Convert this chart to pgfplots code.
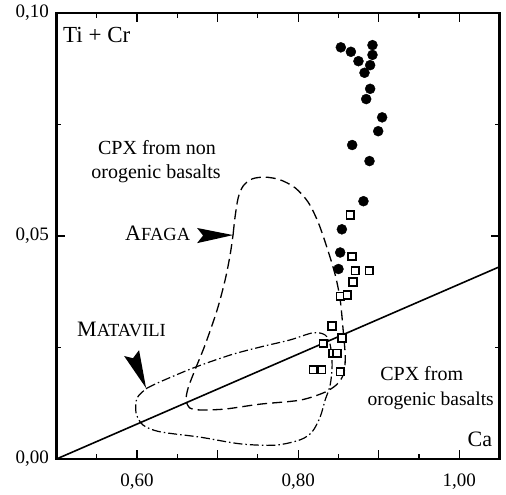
\documentclass[border=0pt]{standalone}
\usepackage{fontspec}
\setmainfont{Liberation Serif}
\usepackage{pgfplots}
\pgfplotsset{compat=1.18}
\newcommand\bigf{\fontsize{22}{24}\selectfont}
\newcommand\smf{\fontsize{18.5}{22}\selectfont}
\begin{document}
\begin{tikzpicture}
\useasboundingbox (-56.5pt,-36pt) rectangle (449.5pt,459pt);
\begin{axis}[
  at={(0pt,0pt)}, anchor=south west,
  width=443pt, height=446pt, scale only axis,
  xmin=0.5, xmax=1.05, ymin=0, ymax=0.1,
  xtick={0.6,0.7,0.8,0.9,1.0},
  xticklabels={{0,60},{},{0,80},{},{1,00}},
  minor xtick={0.55,0.65,0.75,0.85,0.95},
  ytick={0,0.05,0.1},
  yticklabels={{0,00},{0,05},{0,10}},
  minor ytick={0.025,0.075},
  tick align=inside,
  major tick length=9pt, minor tick length=5pt,
  tick style={line width=1.2pt, black},
  ticklabel style={font=\fontsize{19}{22}\selectfont},
  xticklabel style={yshift=-11pt},
  yticklabel style={xshift=-4pt},
  clip=false,
]
% AFAGA field (dashed)
\addplot[smooth, line width=1.3pt, dash pattern=on 10pt off 5pt] coordinates {
(0.7193,0.0504) (0.7217,0.0543) (0.7255,0.0585) (0.7317,0.0612) (0.7429,0.0628)
(0.7590,0.0632) (0.7776,0.0626) (0.7963,0.0608) (0.8124,0.0576) (0.8248,0.0531)
(0.8360,0.0473) (0.8460,0.0413) (0.8522,0.0357) (0.8559,0.0289) (0.8584,0.0233)
(0.8571,0.0195) (0.8497,0.0170) (0.8335,0.0150) (0.8025,0.0132) (0.7528,0.0123)
(0.7093,0.0112) (0.6783,0.0110) (0.6658,0.0114) (0.6609,0.0132) (0.6634,0.0159)
(0.6720,0.0200) (0.6845,0.0256) (0.6994,0.0334) (0.7093,0.0401) (0.7155,0.0457)
(0.7193,0.0504)};
% MATAVILI field (dash-dot)
\addplot[smooth, line width=1.2pt, dash pattern=on 9pt off 3pt on 1.5pt off 3pt] coordinates {
(0.6124,0.0159) (0.6286,0.0173) (0.6696,0.0204) (0.7155,0.0233) (0.7528,0.0251)
(0.7900,0.0267) (0.8186,0.0283) (0.8335,0.0278) (0.8398,0.0256) (0.8422,0.0211)
(0.8398,0.0166) (0.8335,0.0132) (0.8273,0.0094) (0.8174,0.0061) (0.8025,0.0043)
(0.7714,0.0031) (0.7280,0.0034) (0.6783,0.0049) (0.6286,0.0061) (0.6075,0.0076)
(0.5988,0.0103) (0.6000,0.0137) (0.6124,0.0159)};
% discriminant line
\addplot[line width=1.6pt] coordinates {(0.5,0) (1.05,0.0431)};
% filled circles
\addplot[only marks, mark=*, mark size=5pt, black] coordinates {
(0.8530,0.0923) (0.8655,0.0913) (0.8923,0.0928) (0.8923,0.0906) (0.8749,0.0892)
(0.8894,0.0883) (0.8824,0.0866) (0.8894,0.0830) (0.8845,0.0807) (0.9043,0.0766)
(0.8994,0.0735) (0.8671,0.0704) (0.8886,0.0668) (0.8811,0.0578) (0.8543,0.0515)
(0.8522,0.0463) (0.8501,0.0426)};
% open squares
\addplot[only marks, mark=square*, mark size=3.8pt, mark options={fill=white, draw=black, line width=1.7pt}] coordinates {
(0.8646,0.0547) (0.8667,0.0454) (0.8708,0.0422) (0.8882,0.0422) (0.8680,0.0397)
(0.8522,0.0365) (0.8612,0.0368) (0.8419,0.0298) (0.8543,0.0271) (0.8314,0.0259)
(0.8431,0.0237) (0.8481,0.0237) (0.8190,0.0200) (0.8294,0.0200) (0.8522,0.0196)};
% arrows
\fill (axis cs:0.7193,0.0502) -- (axis cs:0.6745,0.0518) -- (axis cs:0.6820,0.0501) -- (axis cs:0.6745,0.0484) -- cycle;
\fill (axis cs:0.6112,0.0159) -- (axis cs:0.5839,0.0231) -- (axis cs:0.5950,0.0226) -- (axis cs:0.6025,0.0244) -- cycle;
% texts
\node[anchor=base west, inner sep=0pt, font=\fontsize{23}{26}\selectfont] at (axis cs:0.5081,0.0933) {Ti + Cr};
\node[anchor=base, inner sep=0pt, font=\fontsize{20}{24}\selectfont] at (axis cs:0.6248,0.0682) {CPX from non};
\node[anchor=base, inner sep=0pt, font=\fontsize{20}{24}\selectfont] at (axis cs:0.6236,0.0630) {orogenic basalts};
\node[anchor=base west, inner sep=0pt] at (axis cs:0.5851,0.0489) {\bigf A\smf FAGA};
\node[anchor=base west, inner sep=0pt] at (axis cs:0.5255,0.0274) {\bigf M\smf ATAVILI};
\node[anchor=base, inner sep=0pt, font=\fontsize{20}{24}\selectfont] at (axis cs:0.9534,0.0175) {CPX from};
\node[anchor=base, inner sep=0pt, font=\fontsize{19.5}{24}\selectfont] at (axis cs:0.9646,0.0121) {orogenic basalts};
\node[anchor=base east, inner sep=0pt, font=\fontsize{22}{24}\selectfont] at (axis cs:1.041,0.0027) {Ca};
% heavy frame
\draw[line width=2.2pt] (rel axis cs:0,0) rectangle (rel axis cs:1,1);
\end{axis}
\end{tikzpicture}
\end{document}
